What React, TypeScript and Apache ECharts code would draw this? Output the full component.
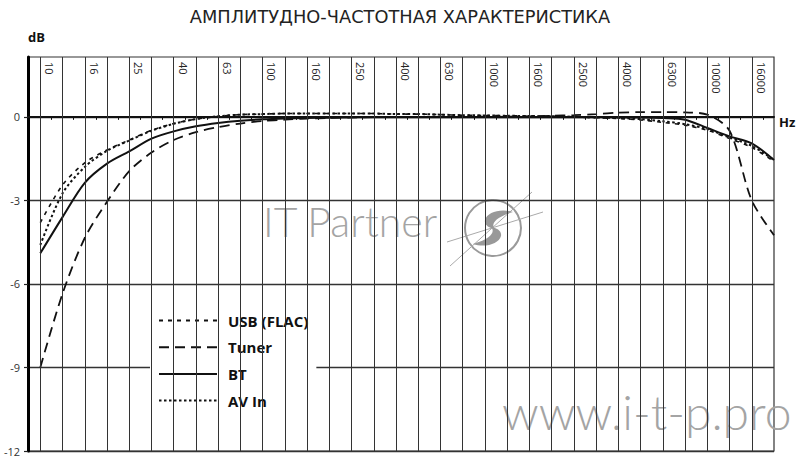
import React, { useEffect, useRef } from "react";
import * as echarts from "echarts";

// 1/3-octave bands (x position = band index)
const bands = [
  "10", "12.5", "16", "20", "25", "31.5", "40", "50", "63", "80", "100", "125",
  "160", "200", "250", "315", "400", "500", "630", "800", "1000", "1250", "1600",
  "2000", "2500", "3150", "4000", "5000", "6300", "8000", "10000", "12500", "16000", "20000",
];
const tickLabels = [
  "10", "16", "25", "40", "63", "100", "160", "250", "400", "630", "1000", "1600",
  "2500", "4000", "6300", "10000", "16000",
];
const yTicks = [-12, -9, -6, -3, 0];

const usbFlac = [
  -3.8, -2.45, -1.65, -1.19, -0.83, -0.48, -0.24, -0.08, 0.02, 0.08, 0.1, 0.12,
  0.12, 0.12, 0.12, 0.12, 0.1, 0.1, 0.08, 0.06, 0.05, 0.04, 0.03, 0.02,
  0.0, -0.03, -0.06, -0.11, -0.2, -0.3, -0.48, -0.78, -1.1, -1.6,
];
const tuner = [
  -9.0, -6.35, -4.35, -3.05, -1.95, -1.28, -0.83, -0.55, -0.37, -0.24, -0.15, -0.1,
  -0.06, -0.04, -0.02, -0.01, 0, 0, 0, 0, 0, 0.01, 0.02, 0.04,
  0.06, 0.1, 0.15, 0.17, 0.17, 0.16, 0.08, -0.5, -3.0, -4.25,
];
const bt = [
  -4.9, -3.6, -2.37, -1.68, -1.24, -0.78, -0.52, -0.34, -0.22, -0.14, -0.09, -0.06,
  -0.04, -0.03, -0.02, -0.01, -0.01, -0.01, -0.01, -0.01, -0.01, -0.01, -0.01, -0.01,
  -0.01, -0.01, -0.02, -0.02, -0.04, -0.1, -0.4, -0.7, -0.95, -1.55,
];
const avIn = [
  -4.6, -2.75, -1.8, -1.22, -0.85, -0.5, -0.25, -0.08, 0.02, 0.08, 0.1, 0.12,
  0.12, 0.12, 0.12, 0.12, 0.1, 0.1, 0.08, 0.06, 0.05, 0.04, 0.03, 0.02,
  0.0, -0.02, -0.04, -0.08, -0.16, -0.26, -0.44, -0.74, -1.04, -1.55,
];

const LABEL_SHIFT = 0.42;
const FONT = "'Open Sans', 'DejaVu Sans', sans-serif";
const TITLE_FONT = "'DejaVu Sans', 'Open Sans', sans-serif";
const WM = "Lato, 'Open Sans', sans-serif";

const S_PATH =
  "M 20 -16 C 8 -20 -6 -16 -8 -8 C -9 -3 -4 0 2 1 C -2 -3 0 -10 20 -16 Z " +
  "M -20 16 C -8 20 6 16 8 8 C 9 3 4 0 -2 -1 C 2 3 0 10 -20 16 Z";

let registered = false;

export default function App() {
  const ref = useRef<HTMLDivElement>(null);

  useEffect(() => {
    if (!ref.current) return;
    if (!registered) {
      echarts.graphic.registerShape("logoS", echarts.graphic.extendPath(S_PATH, {}));
      registered = true;
    }
    const chart = echarts.init(ref.current, undefined, { renderer: "svg" });

    const toPts = (arr: number[]) => arr.map((v, i) => [i, v]);
    const curve = (name: string, arr: number[], width: number, type: any) => ({
      name,
      type: "line",
      data: toPts(arr),
      smooth: 0.3,
      symbol: "none",
      showSymbol: false,
      lineStyle: { color: "#111", width, type },
      itemStyle: { color: "#111" },
      z: 3,
    });

    chart.setOption({
      animation: false,
      title: {
        text: "АМПЛИТУДНО-ЧАСТОТНАЯ ХАРАКТЕРИСТИКА",
        left: "center",
        top: 2,
        textStyle: { fontFamily: TITLE_FONT, fontSize: 17.8, fontWeight: "normal", color: "#222" },
      },
      grid: {
        left: 28,
        right: 26,
        top: 57,
        bottom: 7,
        show: true,
        borderColor: "#333",
        borderWidth: 1.2,
        backgroundColor: "transparent",
      },
      legend: {
        data: ["USB (FLAC)", "Tuner", "BT", "AV In"],
        orient: "vertical",
        left: 150,
        top: 307,
        itemWidth: 58,
        itemHeight: 18,
        itemGap: 11.7,
        padding: [6, 8, 4, 8],
        backgroundColor: "#fff",
        selectedMode: false,
        itemStyle: { opacity: 0 },
        textStyle: {
          fontFamily: FONT,
          fontSize: 15,
          fontWeight: "bold",
          color: "#111",
          padding: [0, 0, 0, 6],
        },
      },
      xAxis: [
        {
          type: "value",
          min: -0.553,
          max: 33,
          position: "bottom",
          axisLine: { show: true, onZero: true, lineStyle: { color: "#111", width: 2 } },
          axisTick: {
            show: true,
            length: 3,
            customValues: bands.slice(0, -1).map((_, i) => i + 0.5),
            lineStyle: { color: "#111", width: 1 },
          },
          axisLabel: { show: false },
          splitLine: { show: false },
        },
        {
          type: "value",
          min: -0.553,
          max: 33,
          position: "top",
          axisLine: { show: false, onZero: false },
          axisTick: { show: false },
          splitLine: { show: false },
          axisLabel: {
            show: true,
            inside: true,
            rotate: 90,
            margin: 5,
            customValues: tickLabels.map((t) => bands.indexOf(t) + LABEL_SHIFT),
            formatter: (v: number) => bands[Math.round(v - LABEL_SHIFT)],
            fontFamily: FONT,
            fontSize: 11,
            color: "#222",
          },
        },
      ],
      yAxis: {
        type: "value",
        min: -12,
        max: 2.15,
        interval: 3,
        axisLine: { show: true, onZero: false, lineStyle: { color: "#000", width: 3 } },
        axisTick: {
          show: true,
          length: 4,
          customValues: yTicks,
          lineStyle: { color: "#222", width: 1.2 },
        },
        axisLabel: {
          customValues: yTicks,
          margin: 8,
          fontFamily: FONT,
          fontSize: 11,
          color: "#333",
        },
        splitLine: { show: true, lineStyle: { color: "#333", width: 1.3 } },
      },
      series: [
        {
          name: "gridlines",
          type: "line",
          data: [],
          silent: true,
          z: 1,
          markLine: {
            silent: true,
            symbol: "none",
            animation: false,
            label: { show: false },
            lineStyle: { color: "#333", width: 1, type: "solid" },
            data: bands.slice(0, -1).map((_, i) => ({ xAxis: i })),
          },
        },
        curve("USB (FLAC)", usbFlac, 1.6, [4, 5]),
        curve("Tuner", tuner, 1.8, [10, 6]),
        curve("BT", bt, 2, "solid"),
        curve("AV In", avIn, 2, [2.5, 2.5]),
      ],
      graphic: [
        {
          type: "text",
          left: 28,
          top: 30,
          style: { text: "dB", font: `bold 13px ${FONT}`, fill: "#111" },
        },
        {
          type: "text",
          left: 779,
          top: 115,
          style: { text: "Hz", font: `bold 13px ${FONT}`, fill: "#111" },
        },
        {
          type: "text",
          x: 263,
          y: 242,
          z: 0,
          style: {
            text: "IT Partner",
            font: `300 41px ${WM}`,
            fill: "#a4a4a4",
            textVerticalAlign: "bottom",
          },
        },
        {
          type: "text",
          x: 502,
          y: 435,
          z: 0,
          style: {
            text: "www.i-t-p.pro",
            font: `300 48px ${WM}`,
            fill: "#a4a4a4",
            textVerticalAlign: "bottom",
          },
        },
        {
          type: "circle",
          shape: { cx: 493, cy: 228, r: 28 },
          z: 0,
          style: { fill: "none", stroke: "#9a9a9a", lineWidth: 2 },
        },
        {
          type: "line",
          shape: { x1: 447, y1: 242, x2: 543, y2: 212 },
          z: 0,
          style: { stroke: "#aaa", lineWidth: 1 },
        },
        {
          type: "line",
          shape: { x1: 450, y1: 266, x2: 532, y2: 192 },
          z: 0,
          style: { stroke: "#aaa", lineWidth: 1 },
        },
        {
          type: "logoS",
          x: 493,
          y: 228,
          z: 0,
          style: { fill: "#999" },
        },
      ],
    });

    return () => chart.dispose();
  }, []);

  return <div ref={ref} style={{ width: 800, height: 458, position: "absolute", left: 0, top: 0 }} />;
}
